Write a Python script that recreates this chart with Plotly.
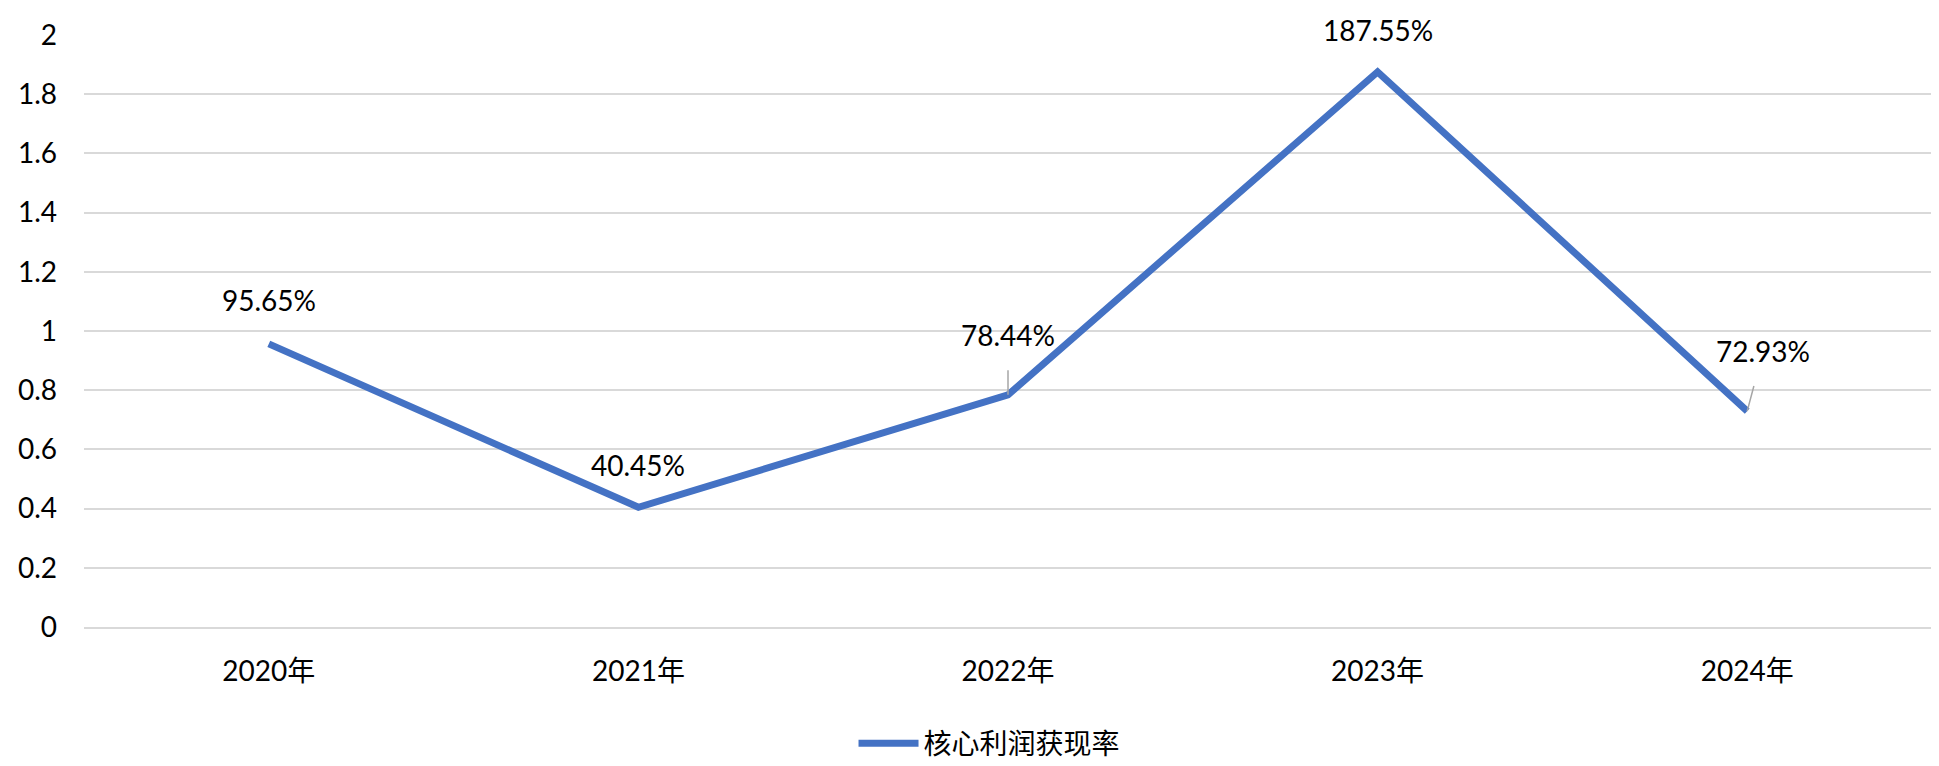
import plotly.graph_objects as go

years = ['2020年', '2021年', '2022年', '2023年', '2024年']
rate = [0.9565, 0.4045, 0.7844, 1.8755, 0.7293]
labels = ['95.65%', '40.45%', '78.44%', '187.55%', '72.93%']
series_name = '核心利润获现率'

font = 'Lato, "Noto Sans CJK SC", sans-serif'

fig = go.Figure()
fig.add_trace(go.Scatter(
    x=years, y=rate, name=series_name, mode='lines',
    line=dict(color='#4472C4', width=7),
))

# data labels; the 2022 and 2024 ones have leader lines like in Excel
offsets = [(0, -44), (0, -42), (0, -60), (0, -42), (16, -60)]
for x, y, t, (ax, ay) in zip(years, rate, labels, offsets):
    leader = t in ('78.44%', '72.93%')
    fig.add_annotation(
        x=x, y=y, text=t, showarrow=leader,
        ax=ax, ay=ay if leader else 0, arrowhead=0, arrowwidth=1.5,
        arrowcolor='#A6A6A6', standoff=0, startstandoff=17,
        yshift=0 if leader else -ay,
        font=dict(size=28, color='#000000', family=font),
    )

# page body keeps its default 8px margin, so the figure is sized to fit inside it
fig.update_layout(
    width=1931, height=758,
    paper_bgcolor='white', plot_bgcolor='white',
    margin=dict(l=76, r=7, t=27, b=139, autoexpand=False),
    font=dict(family=font, size=28, color='#000000'),
    showlegend=True,
    legend=dict(orientation='h', x=0.49, xanchor='center', y=-0.197, yanchor='middle',
                font=dict(size=28), itemwidth=60),
)
fig.update_xaxes(range=[-0.5, 4.5], showgrid=False, showline=True, linecolor='#D9D9D9',
                 linewidth=2, ticks='', ticklabelstandoff=18, tickfont=dict(size=28),
                 automargin=False)
fig.update_yaxes(range=[0, 2], dtick=0.2, showgrid=True, gridcolor='#D9D9D9', gridwidth=2,
                 zeroline=False, ticks='', ticklabelstandoff=26, tickfont=dict(size=28),
                 tickformat='~g', automargin=False)

fig.write_html('out.html')
